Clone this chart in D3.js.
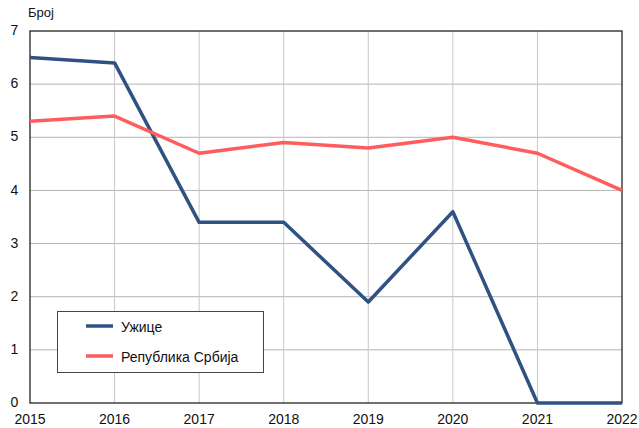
<!DOCTYPE html>
<html>
<head>
<meta charset="utf-8">
<script src="https://cdn.jsdelivr.net/npm/d3@7"></script>
<style>
  body { margin: 0; background: #fff; }
  svg { display: block; font-family: "Liberation Sans", Arial, sans-serif; }
</style>
</head>
<body>
<div id="chart"></div>
<script>
const years = [2015, 2016, 2017, 2018, 2019, 2020, 2021, 2022];
const uzice = [6.5, 6.4, 3.4, 3.4, 1.9, 3.6, 0, 0];
const srbija = [5.3, 5.4, 4.7, 4.9, 4.8, 5.0, 4.7, 4.0];
const yTicks = [0, 1, 2, 3, 4, 5, 6, 7];
const seriesNames = ["Ужице", "Република Србија"];
const seriesColors = ["#2f5283", "#ff5d5d"];

const width = 639, height = 428;
const margin = {top: 31, right: 17, bottom: 25, left: 30};

const svg = d3.select("#chart").append("svg")
    .attr("width", width)
    .attr("height", height);

const x = d3.scaleLinear()
    .domain([years[0], years[years.length - 1]])
    .range([margin.left, width - margin.right]);

const y = d3.scaleLinear()
    .domain([0, 7])
    .range([height - margin.bottom, margin.top]);

// Gridlines.
svg.append("g")
    .selectAll("line")
    .data(yTicks.slice(1, -1))
    .join("line")
        .attr("x1", margin.left)
        .attr("x2", width - margin.right)
        .attr("y1", d => y(d))
        .attr("y2", d => y(d))
        .attr("stroke", "#b4b4b4")
        .attr("stroke-width", 1);

svg.append("g")
    .selectAll("line")
    .data(years.slice(1, -1))
    .join("line")
        .attr("x1", d => x(d))
        .attr("x2", d => x(d))
        .attr("y1", y(0))
        .attr("y2", y(7))
        .attr("stroke", "#c8c8c8")
        .attr("stroke-width", 1);

// Frame.
svg.append("rect")
    .attr("x", margin.left)
    .attr("y", margin.top)
    .attr("width", width - margin.left - margin.right)
    .attr("height", height - margin.top - margin.bottom)
    .attr("fill", "none")
    .attr("stroke", "#222")
    .attr("stroke-width", 1.3);

// Tick labels.
svg.append("g")
    .selectAll("text")
    .data(yTicks)
    .join("text")
        .attr("x", 14.5)
        .attr("y", d => y(d))
        .attr("dy", "0.3em")
        .attr("text-anchor", "middle")
        .attr("font-size", 14)
        .attr("fill", "#111")
        .text(d => d);

svg.append("g")
    .selectAll("text")
    .data(years)
    .join("text")
        .attr("x", d => x(d))
        .attr("y", height - 4)
        .attr("text-anchor", "middle")
        .attr("font-size", 14)
        .attr("fill", "#111")
        .text(d => d);

svg.append("text")
    .attr("x", 28)
    .attr("y", 17)
    .attr("font-size", 13)
    .attr("fill", "#111")
    .text("Број");

// Lines.
const line = d3.line()
    .x((d, i) => x(years[i]))
    .y(d => y(d));

[uzice, srbija].forEach((s, i) => {
    svg.append("path")
        .datum(s)
        .attr("fill", "none")
        .attr("stroke", seriesColors[i])
        .attr("stroke-width", 3.5)
        .attr("stroke-linejoin", "round")
        .attr("d", line);
});

// Legend.
const legend = svg.append("g");
legend.append("rect")
    .attr("x", 57.5)
    .attr("y", 311.5)
    .attr("width", 206)
    .attr("height", 61)
    .attr("fill", "#fff")
    .attr("stroke", "#444")
    .attr("stroke-width", 1);

seriesNames.forEach((name, i) => {
    const ly = 326 + i * 30;
    legend.append("line")
        .attr("x1", 86)
        .attr("x2", 113)
        .attr("y1", ly)
        .attr("y2", ly)
        .attr("stroke", seriesColors[i])
        .attr("stroke-width", 3.5);
    legend.append("text")
        .attr("x", 121)
        .attr("y", ly + 5.5)
        .attr("font-size", 14)
        .attr("fill", "#111")
        .text(name);
});
</script>
</body>
</html>
